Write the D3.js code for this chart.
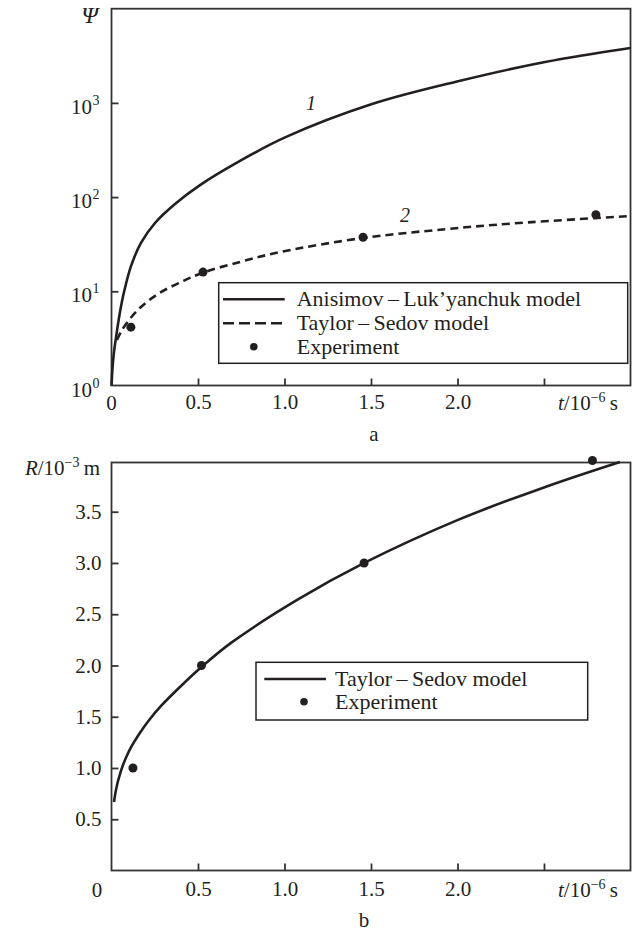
<!DOCTYPE html>
<html>
<head>
<meta charset="utf-8">
<script src="https://cdn.jsdelivr.net/npm/d3@7"></script>
<style>
  body { margin: 0; background: #fff; }
  svg { display: block; }
  text { font-family: "Liberation Serif", "Times New Roman", serif; fill: #231f20; }
</style>
</head>
<body>
<svg id="chart" width="644" height="931"></svg>
<script>
// Panel a: Anisimov - Luk'yanchuk model (curve 1)
const tAL = [0, 0.0058, 0.0145, 0.0289, 0.0491, 0.0723, 0.1127, 0.1705, 0.2514, 0.367, 0.5116, 0.7428, 1.003, 1.506, 2.009, 2.506, 3.0];
const psiAL = [1.0, 1.53, 2.27, 3.51, 6.03, 9.82, 18.5, 32.6, 53.1, 84.5, 134, 242, 430, 972, 1706, 2716, 3828];

// Panel a: Taylor - Sedov model (curve 2)
const tTS = [0.0318, 0.0578, 0.104, 0.1734, 0.2775, 0.4046, 0.5289, 0.7514, 0.974, 1.454, 1.939, 2.321, 3.0];
const psiTS = [3.04, 3.79, 5.02, 6.9, 9.59, 12.6, 15.8, 20.7, 26.1, 36.8, 45.8, 52.5, 63.0];

// Panel a: experiment
const tExpA = [0.112, 0.529, 1.454, 2.8];
const psiExp = [4.16, 16, 37.5, 65];

// Panel b: Taylor - Sedov radius
const tTSb = [0.0145, 0.0231, 0.0347, 0.0491, 0.0665, 0.0867, 0.1156, 0.1561, 0.211, 0.289, 0.4046, 0.5168, 0.6908, 1.073, 1.461, 2.003, 2.5, 2.939];
const rTSb = [0.668, 0.761, 0.854, 0.941, 1.029, 1.112, 1.21, 1.322, 1.454, 1.61, 1.805, 1.98, 2.22, 2.639, 3.0, 3.42, 3.737, 3.985];

// Panel b: experiment
const tExpB = [0.124, 0.52, 1.46, 2.78];
const rExp = [1.0, 2.0, 3.0, 4.0];

// Ticks
const tTicks = [0.5, 1.0, 1.5, 2.0, 2.5];
const psiTicks = [1, 10, 100, 1000];
const psiExponents = ['0', '1', '2', '3'];
const rTicks = [0.5, 1.0, 1.5, 2.0, 2.5, 3.0, 3.5];

const legendA = ['Anisimov\u2009\u2013\u2009Luk\u2019yanchuk model', 'Taylor\u2009\u2013\u2009Sedov model', 'Experiment'];
const legendB = ['Taylor\u2009\u2013\u2009Sedov model', 'Experiment'];

const FONT = '"Liberation Serif", "Times New Roman", serif';
const INK = '#231f20';
const FRAME = '#333';
const TICK_FONT = 21;
const LEGEND_FONT = 22;

const svg = d3.select('#chart');

const x = d3.scaleLinear().domain([0, 3]).range([111.5, 630.5]);
const yA = d3.scaleLog().domain([1, 1e4]).range([385.5, 8.7]);
const yB = d3.scaleLinear().domain([0, 3.98]).range([870.5, 462.5]);

const zip = (a, b) => a.map((v, i) => [v, b[i]]);

/**
 * Style a d3 axis group: no domain path, frame-coloured ticks, serif labels
 */
function styleAxis(axisG) {
  axisG.attr('font-family', FONT).attr('font-size', TICK_FONT);
  axisG.select('.domain').remove();
  axisG.selectAll('.tick line').attr('stroke', FRAME).attr('stroke-width', 1.8);
  axisG.selectAll('.tick text').attr('fill', INK);
}

/**
 * Frame, inward ticks and the shared time axis of one panel
 */
function drawFrame(g, y, labelGap) {
  const [y0, y1] = y.range();
  g.append('rect')
    .attr('x', x(0)).attr('y', y1)
    .attr('width', x(3) - x(0)).attr('height', y0 - y1)
    .attr('fill', 'none').attr('stroke', FRAME).attr('stroke-width', 1.8);

  const xAxis = g.append('g')
    .attr('transform', `translate(0,${y0})`)
    .call(d3.axisBottom(x).tickValues(tTicks).tickSize(-7).tickPadding(labelGap)
      .tickFormat(d => d === 2.5 ? '' : d3.format('.1f')(d)));
  styleAxis(xAxis);

  // t/10^-6 s title in place of the 2.5 label
  const title = g.append('text')
    .attr('x', 618).attr('y', y0 + labelGap + 15)
    .attr('text-anchor', 'end').attr('font-size', TICK_FONT);
  title.append('tspan').attr('font-style', 'italic').text('t');
  title.append('tspan').text('/10');
  title.append('tspan').attr('font-size', 14).attr('dy', -8).text('\u22126');
  title.append('tspan').attr('dy', 8).text('\u2009s');
}

function drawLegend(g, box, rows, items) {
  g.append('rect')
    .attr('x', box.x).attr('y', box.y).attr('width', box.w).attr('height', box.h)
    .attr('fill', '#fff').attr('stroke', INK).attr('stroke-width', 1.5);

  items.forEach((it, i) => {
    const ry = rows[i];
    if (it.type === 'dot') {
      g.append('circle').attr('cx', it.cx).attr('cy', ry).attr('r', 3.8).attr('fill', INK);
    } else {
      g.append('line')
        .attr('x1', box.lx1).attr('x2', box.lx2).attr('y1', ry).attr('y2', ry)
        .attr('stroke', INK).attr('stroke-width', 2.6)
        .attr('stroke-dasharray', it.type === 'dash' ? '11,5' : null);
    }
    g.append('text')
      .attr('x', box.tx).attr('y', ry + 7)
      .attr('font-size', LEGEND_FONT)
      .text(it.label);
  });
}

// ---------- panel a ----------
const gA = svg.append('g').attr('class', 'panel-a');
drawFrame(gA, yA, 9);

const yAxisA = gA.append('g')
  .attr('transform', `translate(${x(0)},0)`)
  .call(d3.axisLeft(yA).tickValues(psiTicks.slice(1)).tickSize(-7).tickFormat(''));
styleAxis(yAxisA);

psiTicks.forEach((v, i) => {
  gA.append('text')
    .attr('x', 92).attr('y', yA(v) + 11)
    .attr('text-anchor', 'end').attr('font-size', TICK_FONT).text('10');
  gA.append('text')
    .attr('x', 92.5).attr('y', yA(v) + 2)
    .attr('font-size', 14).text(psiExponents[i]);
});

gA.append('text')
  .attr('x', x(0)).attr('y', 410)
  .attr('text-anchor', 'middle').attr('font-size', TICK_FONT).text('0');

gA.append('text')
  .attr('x', 98).attr('y', 23)
  .attr('text-anchor', 'end').attr('font-size', 24).attr('font-style', 'italic')
  .text('\u03A8');

const lineA = d3.line().x(d => x(d[0])).y(d => yA(d[1])).curve(d3.curveCatmullRom.alpha(0.5));

gA.append('path')
  .datum(zip(tAL, psiAL))
  .attr('d', lineA)
  .attr('fill', 'none').attr('stroke', INK).attr('stroke-width', 2.6);

gA.append('path')
  .datum(zip(tTS, psiTS))
  .attr('d', lineA)
  .attr('fill', 'none').attr('stroke', INK).attr('stroke-width', 2.6)
  .attr('stroke-dasharray', '8,5');

gA.selectAll('.exp')
  .data(zip(tExpA, psiExp))
  .join('circle')
    .attr('class', 'exp')
    .attr('cx', d => x(d[0])).attr('cy', d => yA(d[1]))
    .attr('r', 4.5).attr('fill', INK);

gA.append('text').attr('x', 311).attr('y', 110)
  .attr('text-anchor', 'middle').attr('font-size', 20).attr('font-style', 'italic').text('1');
gA.append('text').attr('x', 405).attr('y', 221.5)
  .attr('text-anchor', 'middle').attr('font-size', 20).attr('font-style', 'italic').text('2');

drawLegend(gA,
  { x: 218.7, y: 282.7, w: 409, h: 80.6, lx1: 223, lx2: 284.7, tx: 296.7 },
  [299.3, 323.3, 346.7],
  [
    { type: 'line', label: legendA[0] },
    { type: 'dash', label: legendA[1] },
    { type: 'dot', cx: 253.8, label: legendA[2] }
  ]);

gA.append('text')
  .attr('x', 374).attr('y', 441)
  .attr('text-anchor', 'middle').attr('font-size', TICK_FONT).text('a');

// ---------- panel b ----------
const gB = svg.append('g').attr('class', 'panel-b');
drawFrame(gB, yB, 11);

const yAxisB = gB.append('g')
  .attr('transform', `translate(${x(0)},0)`)
  .call(d3.axisLeft(yB).tickValues(rTicks).tickSize(-7).tickPadding(10)
    .tickFormat(d3.format('.1f')));
styleAxis(yAxisB);

gB.append('text')
  .attr('x', 97).attr('y', 897)
  .attr('text-anchor', 'middle').attr('font-size', TICK_FONT).text('0');

const rTitle = gB.append('text')
  .attr('x', 100).attr('y', 475)
  .attr('text-anchor', 'end').attr('font-size', TICK_FONT);
rTitle.append('tspan').attr('font-style', 'italic').text('R');
rTitle.append('tspan').text('/10');
rTitle.append('tspan').attr('font-size', 14).attr('dy', -8).text('\u22123');
rTitle.append('tspan').attr('dy', 8).text('\u2009m');

const lineB = d3.line().x(d => x(d[0])).y(d => yB(d[1])).curve(d3.curveCatmullRom.alpha(0.5));

gB.append('path')
  .datum(zip(tTSb, rTSb))
  .attr('d', lineB)
  .attr('fill', 'none').attr('stroke', INK).attr('stroke-width', 2.6);

gB.selectAll('.exp')
  .data(zip(tExpB, rExp))
  .join('circle')
    .attr('class', 'exp')
    .attr('cx', d => x(d[0])).attr('cy', d => yB(d[1]))
    .attr('r', 4.5).attr('fill', INK);

drawLegend(gB,
  { x: 256, y: 662.3, w: 331.7, h: 57.7, lx1: 264.3, lx2: 326, tx: 335 },
  [679, 701.7],
  [
    { type: 'line', label: legendB[0] },
    { type: 'dot', cx: 304, label: legendB[1] }
  ]);

gB.append('text')
  .attr('x', 364).attr('y', 927)
  .attr('text-anchor', 'middle').attr('font-size', TICK_FONT).text('b');
</script>
</body>
</html>
